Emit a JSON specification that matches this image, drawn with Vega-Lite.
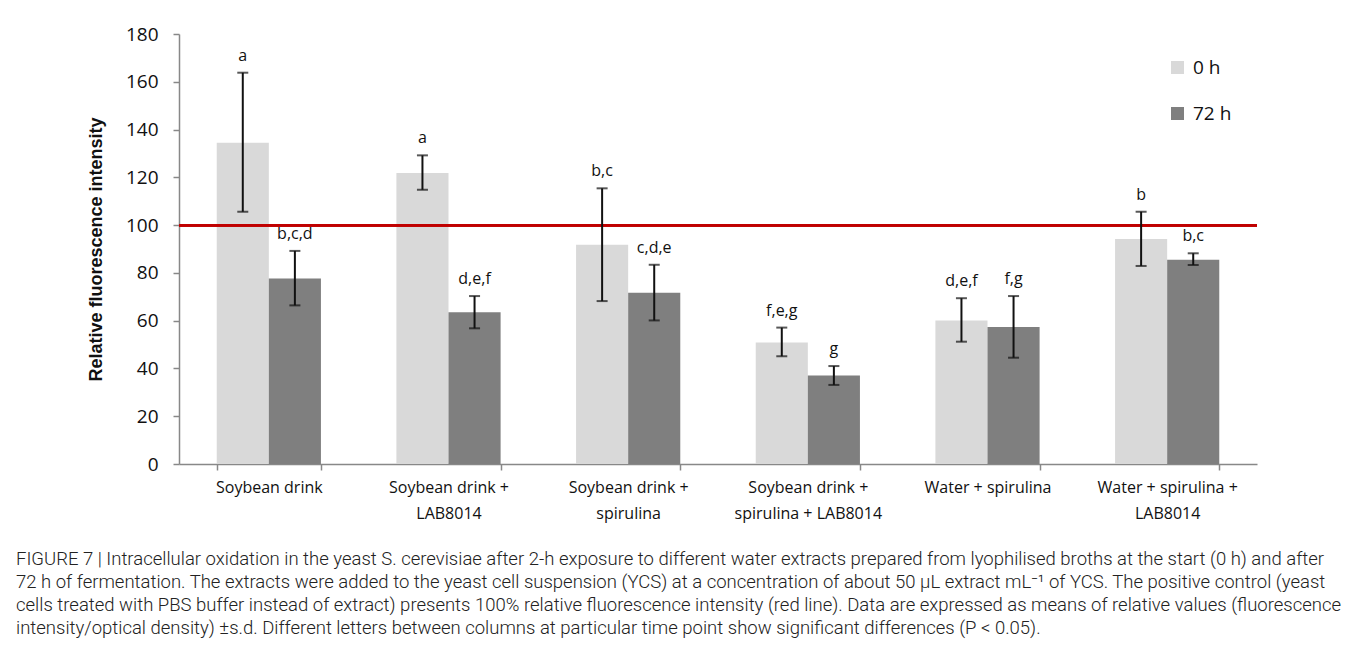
{
  "$schema": "https://vega.github.io/schema/vega-lite/v6.json",
  "autosize": {"type": "none"},
  "padding": {"left": 179, "top": 34, "right": 101, "bottom": 208},
  "width": 1078,
  "height": 430,
  "background": "white",
  "config": {
    "font": "Open Sans",
    "view": {"stroke": null},
    "legend": {"padding": 0}
  },
  "title": {
    "text": [
      "FIGURE 7 | Intracellular oxidation in the yeast S. cerevisiae after 2-h exposure to different water extracts prepared from lyophilised broths at the start (0 h) and after",
      "72 h of fermentation. The extracts were added to the yeast cell suspension (YCS) at a concentration of about 50 μL extract mL⁻¹ of YCS. The positive control (yeast",
      "cells treated with PBS buffer instead of extract) presents 100% relative fluorescence intensity (red line). Data are expressed as means of relative values (fluorescence",
      "intensity/optical density) ±s.d. Different letters between columns at particular time point show significant differences (P < 0.05)."
    ],
    "orient": "bottom",
    "anchor": "start",
    "frame": "group",
    "dx": -163,
    "offset": 29,
    "font": "Roboto",
    "fontSize": 18.5,
    "fontWeight": 300,
    "lineHeight": 23,
    "color": "#222222",
    "baseline": "top"
  },
  "data": {
    "values": [
      {"group": "Soybean drink", "time": "0 h", "mean": 134.5, "lo": 105.6, "hi": 163.8, "letters": "a"},
      {"group": "Soybean drink", "time": "72 h", "mean": 77.7, "lo": 66.4, "hi": 89.2, "letters": "b,c,d"},
      {"group": "Soybean drink + LAB8014", "time": "0 h", "mean": 121.8, "lo": 114.8, "hi": 129.2, "letters": "a"},
      {"group": "Soybean drink + LAB8014", "time": "72 h", "mean": 63.5, "lo": 56.8, "hi": 70.3, "letters": "d,e,f"},
      {"group": "Soybean drink + spirulina", "time": "0 h", "mean": 91.8, "lo": 68.2, "hi": 115.4, "letters": "b,c"},
      {"group": "Soybean drink + spirulina", "time": "72 h", "mean": 71.7, "lo": 60.1, "hi": 83.4, "letters": "c,d,e"},
      {"group": "Soybean drink + spirulina + LAB8014", "time": "0 h", "mean": 50.9, "lo": 45.1, "hi": 57.1, "letters": "f,e,g"},
      {"group": "Soybean drink + spirulina + LAB8014", "time": "72 h", "mean": 37.0, "lo": 33.1, "hi": 41.0, "letters": "g"},
      {"group": "Water + spirulina", "time": "0 h", "mean": 60.1, "lo": 51.2, "hi": 69.4, "letters": "d,e,f"},
      {"group": "Water + spirulina", "time": "72 h", "mean": 57.3, "lo": 44.5, "hi": 70.3, "letters": "f,g"},
      {"group": "Water + spirulina + LAB8014", "time": "0 h", "mean": 94.2, "lo": 82.9, "hi": 105.6, "letters": "b"},
      {"group": "Water + spirulina + LAB8014", "time": "72 h", "mean": 85.5, "lo": 83.3, "hi": 88.2, "letters": "b,c"}
    ]
  },
  "encoding": {
    "x": {
      "field": "group",
      "type": "nominal",
      "sort": null,
      "scale": {"paddingInner": 0.42, "paddingOuter": 0.21},
      "axis": {
        "title": null,
        "labelAngle": 0,
        "labelExpr": "indexof(datum.label, 'Soybean drink + ') == 0 ? ['Soybean drink +', substring(datum.label, 16)] : (datum.label == 'Water + spirulina + LAB8014' ? ['Water + spirulina +', 'LAB8014'] : datum.label)",
        "labelFontSize": 16,
        "labelColor": "#111111",
        "labelLineHeight": 26,
        "labelPadding": 9,
        "labelLimit": 300,
        "tickBand": "extent",
        "tickSize": 6,
        "tickColor": "#888888",
        "tickWidth": 1.5,
        "domainColor": "#888888",
        "domainWidth": 1.5
      }
    },
    "xOffset": {"field": "time", "type": "nominal", "sort": ["0 h", "72 h"]}
  },
  "layer": [
    {
      "mark": {"type": "bar"},
      "encoding": {
        "y": {
          "field": "mean",
          "type": "quantitative",
          "scale": {"domain": [0, 180], "nice": false},
          "axis": {
            "title": "Relative fluorescence intensity",
            "titleFont": "Liberation Sans",
            "titleFontSize": 18,
            "titleFontWeight": "bold",
            "titleColor": "#111111",
            "titlePadding": 20,
            "values": [0, 20, 40, 60, 80, 100, 120, 140, 160, 180],
            "grid": false,
            "labelFontSize": 19,
            "labelColor": "#111111",
            "labelPadding": 15,
            "tickSize": 6,
            "tickColor": "#888888",
            "tickWidth": 1.5,
            "domainColor": "#888888",
            "domainWidth": 1.5
          }
        },
        "color": {
          "field": "time",
          "type": "nominal",
          "scale": {"domain": ["0 h", "72 h"], "range": ["#d9d9d9", "#7f7f7f"]},
          "legend": {
            "title": null,
            "orient": "none",
            "legendX": 989,
            "legendY": 24,
            "symbolType": "square",
            "symbolSize": 169,
            "symbolStrokeWidth": 0,
            "labelFontSize": 19,
            "labelColor": "#111111",
            "labelOffset": 6,
            "rowPadding": 26
          }
        }
      }
    },
    {
      "mark": {"type": "rule", "color": "#c00000", "strokeWidth": 2.2},
      "encoding": {"y": {"datum": 100, "type": "quantitative"}, "x": null, "xOffset": null}
    },
    {
      "mark": {"type": "rule", "color": "#111111", "strokeWidth": 2},
      "encoding": {
        "y": {"field": "lo", "type": "quantitative"},
        "y2": {"field": "hi"}
      }
    },
    {
      "mark": {"type": "tick", "color": "#111111", "size": 11, "thickness": 2},
      "encoding": {"y": {"field": "lo", "type": "quantitative"}}
    },
    {
      "mark": {"type": "tick", "color": "#111111", "size": 11, "thickness": 2},
      "encoding": {"y": {"field": "hi", "type": "quantitative"}}
    },
    {
      "mark": {"type": "text", "fontSize": 16, "color": "#111111", "baseline": "middle", "dy": -17},
      "encoding": {
        "y": {"field": "hi", "type": "quantitative"},
        "text": {"field": "letters"}
      }
    }
  ]
}
